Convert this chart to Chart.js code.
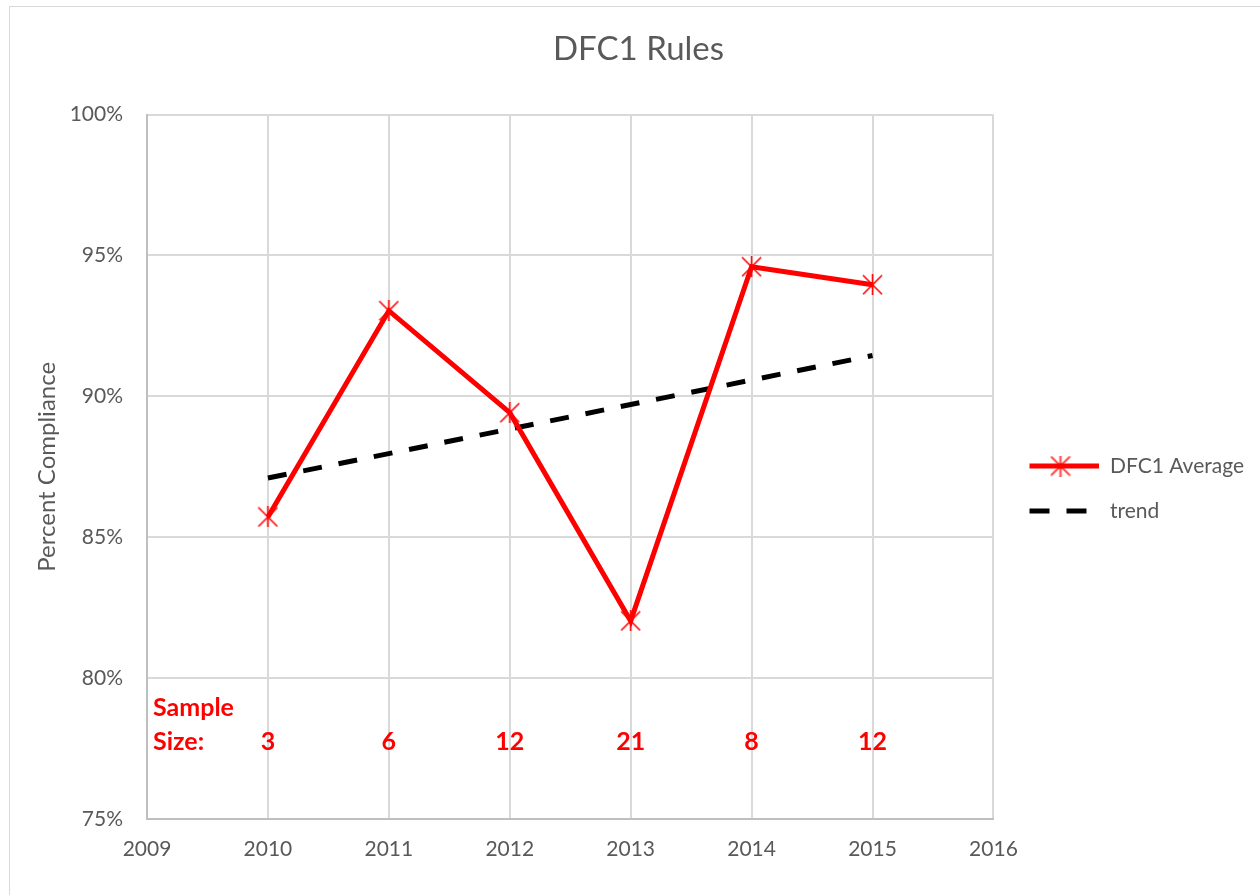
<!DOCTYPE html>
<html>

<head>
    <title>DFC1 Rules</title>
    <script src="https://cdn.jsdelivr.net/npm/chart.js"></script>
    <style>
        body { margin: 0; width: 1260px; height: 895px; overflow: hidden; background: #fff; position: relative; }
        .frame { position: absolute; left: 9px; top: 6px; width: 1300px; height: 950px;
                 border-left: 1px solid #d9d9d9; border-top: 1px solid #d9d9d9; }
        .chart-box { position: absolute; left: 0; top: 0; width: 1268px; height: 895px; }
    </style>
</head>

<body>
    <div class="frame"></div>
    <div class="chart-box">
        <canvas id="chart"></canvas>
    </div>

    <script type="text/javascript">
        // values
        const years = [2010, 2011, 2012, 2013, 2014, 2015]
        const dfc1Average = [85.72, 93.04, 89.42, 82.03, 94.60, 93.96]
        const trendYears = [2010, 2015]
        const trendValues = [87.10, 91.45]
        const sampleSizes = [3, 6, 12, 21, 8, 12]
        const yTicks = [75, 80, 85, 90, 95, 100]
        const xTicks = [2009, 2010, 2011, 2012, 2013, 2014, 2015, 2016]

        const RED = '#ff0000'
        const GREY_TEXT = '#595959'
        const FONT = 'Lato'

        // excel style star marker: an X plus a vertical stroke
        function starIcon(size) {
            const c = document.createElement('canvas')
            c.width = size; c.height = size
            const g = c.getContext('2d')
            const m = size / 2, r = size / 2 - 1
            g.strokeStyle = RED
            g.lineWidth = 1.6
            g.beginPath()
            g.moveTo(m - r, m - r); g.lineTo(m + r, m + r)
            g.moveTo(m + r, m - r); g.lineTo(m - r, m + r)
            g.moveTo(m, 0); g.lineTo(m, size)
            g.stroke()
            return c
        }

        const star = starIcon(21)

        function legendIcon(kind) {
            const c = document.createElement('canvas')
            c.width = 82; c.height = 22
            const g = c.getContext('2d')
            g.lineWidth = 5
            g.beginPath()
            if (kind == 'avg') {
                g.strokeStyle = RED
                g.moveTo(12, 11); g.lineTo(82, 11)
                g.stroke()
                g.drawImage(star, 43 - 10.5, 0.5)
            } else {
                g.strokeStyle = '#000'
                g.setLineDash([20, 17])
                g.moveTo(12, 11); g.lineTo(82, 11)
                g.stroke()
            }
            return c
        }

        const SAMPLE_ROW1 = 78.94
        const SAMPLE_ROW2 = 77.73

        const sampleSizeLabels = {
            id: 'sampleSizeLabels',
            afterDatasetsDraw(chart) {
                const {ctx, scales: {x, y}} = chart
                ctx.save()
                ctx.fillStyle = RED
                ctx.font = 'bold 25px ' + FONT
                ctx.textBaseline = 'middle'
                ctx.textAlign = 'left'
                ctx.fillText('Sample', x.left + 6, y.getPixelForValue(SAMPLE_ROW1))
                ctx.fillText('Size:', x.left + 6, y.getPixelForValue(SAMPLE_ROW2))
                ctx.textAlign = 'center'
                years.forEach((yr, i) => {
                    ctx.fillText(String(sampleSizes[i]), x.getPixelForValue(yr), y.getPixelForValue(SAMPLE_ROW2))
                })
                ctx.restore()
            }
        }

        // excel puts the legend a bit lower than centre and the title in the middle of the whole frame
        const nudge = {
            id: 'nudge',
            afterLayout(chart) {
                chart.legend.top += 38
                chart.legend.bottom += 38
                const shift = (chart.width - 9) / 2 + 9 - (chart.titleBlock.left + chart.titleBlock.right) / 2
                chart.titleBlock.left += shift
                chart.titleBlock.right += shift
            }
        }

        const ctx = document.getElementById('chart')
        let chart = new Chart(ctx, {
            type: 'line',
            data: {
                datasets: [{
                        label: 'DFC1 Average',
                        data: years.map((yr, i) => ({x: yr, y: dfc1Average[i]})),
                        borderColor: RED,
                        backgroundColor: RED,
                        borderWidth: 5,
                        pointStyle: star,
                        pointRadius: 10,
                        tension: 0
                    },
                    {
                        label: 'trend',
                        data: trendYears.map((yr, i) => ({x: yr, y: trendValues[i]})),
                        borderColor: '#000',
                        borderWidth: 5,
                        borderDash: [19, 17],
                        pointRadius: 0
                    }
                ]
            },
            options: {
                responsive: true,
                maintainAspectRatio: false,
                animation: false,
                layout: { padding: { left: 9, top: 6, right: 14, bottom: 0 } },
                plugins: {
                    title: {
                        display: true,
                        text: 'DFC1 Rules',
                        color: GREY_TEXT,
                        font: { family: FONT, size: 33, weight: 'normal' },
                        padding: { top: 24, bottom: 45 }
                    },
                    legend: {
                        position: 'right',
                        labels: {
                            usePointStyle: true,
                            pointStyleWidth: 82,
                            padding: 24,
                            color: GREY_TEXT,
                            font: { family: FONT, size: 21 },
                            generateLabels: (chart) => chart.data.datasets.map((ds, i) => ({
                                text: ds.label,
                                datasetIndex: i,
                                pointStyle: legendIcon(i == 0 ? 'avg' : 'trend'),
                                fontColor: GREY_TEXT,
                                lineWidth: 0,
                                strokeStyle: 'rgba(0,0,0,0)',
                                fillStyle: 'rgba(0,0,0,0)'
                            }))
                        }
                    },
                    tooltip: { enabled: false }
                },
                scales: {
                    x: {
                        type: 'linear',
                        min: 2009,
                        max: 2016,
                        afterBuildTicks: (axis) => { axis.ticks = xTicks.map(v => ({value: v})) },
                        afterFit: (axis) => { axis.height = 76 },
                        ticks: {
                            color: GREY_TEXT,
                            font: { family: FONT, size: 21 },
                            padding: 18,
                            callback: (v) => String(v)
                        },
                        grid: { color: '#d9d9d9', lineWidth: 2, drawTicks: false },
                        border: { color: '#bfbfbf', width: 2 }
                    },
                    y: {
                        min: 75,
                        max: 100,
                        afterBuildTicks: (axis) => { axis.ticks = yTicks.map(v => ({value: v})) },
                        afterFit: (axis) => { axis.width = 138 },
                        ticks: {
                            color: GREY_TEXT,
                            font: { family: FONT, size: 21 },
                            padding: 24,
                            callback: (v) => v + '%'
                        },
                        title: {
                            display: true,
                            text: 'Percent Compliance',
                            color: GREY_TEXT,
                            font: { family: FONT, size: 24 },
                            padding: { top: 24, bottom: 0 }
                        },
                        grid: { color: '#d9d9d9', lineWidth: 2, drawTicks: false },
                        border: { color: '#bfbfbf', width: 2 }
                    }
                }
            },
            plugins: [sampleSizeLabels, nudge]
        })
    </script>
</body>

</html>
